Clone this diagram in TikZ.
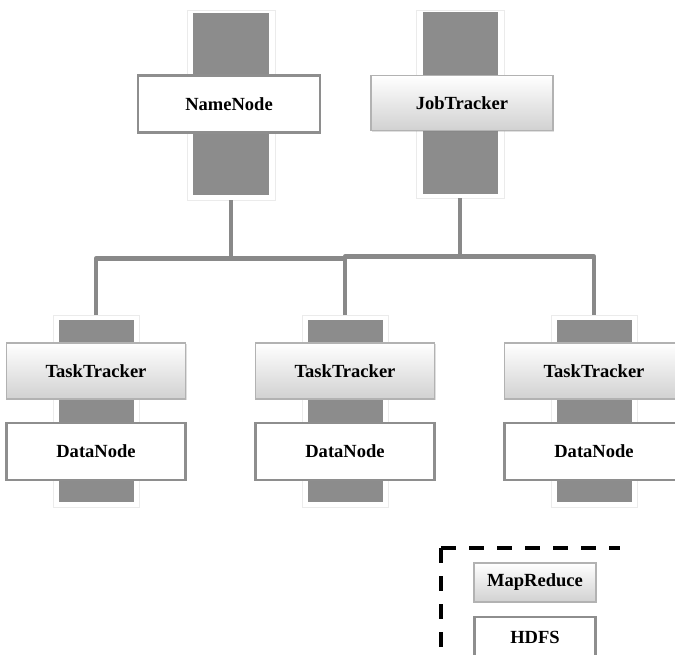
\documentclass[tikz,border=0pt]{standalone}
\usepackage{fontspec}
\setmainfont{Liberation Serif}
\usetikzlibrary{shadows}
\definecolor{barc}{HTML}{8C8C8C}
\definecolor{linec}{HTML}{898989}
\definecolor{edgec}{HTML}{8E8E8E}
\tikzset{
  sz/.style 2 args={minimum width=#1*0.75pt, minimum height=#2*0.75pt, inner sep=0pt, outer sep=0pt},
  halo/.style={rectangle, fill=white, draw=black!8, line width=0.4pt,
    drop shadow={opacity=0.18, shadow xshift=0.6pt, shadow yshift=-0.8pt}},
  bar/.style={rectangle, fill=barc, draw=none},
  whitebox/.style={rectangle, fill=white, draw=edgec, line width=1.6pt,
    font=\bfseries\fontsize{13.9}{16}\selectfont,
    drop shadow={opacity=0.2, shadow xshift=0.8pt, shadow yshift=-0.8pt}},
  gradbox/.style={rectangle, top color=white, bottom color=black!18, draw=black!30, line width=0.8pt,
    font=\bfseries\fontsize{13.9}{16}\selectfont,
    drop shadow={opacity=0.25, shadow xshift=0.8pt, shadow yshift=-1pt}},
  conn/.style={draw=linec, line width=3.5pt, line join=round},
  legendline/.style={draw=black, line width=2.3pt, dash pattern=on 11.25pt off 9.75pt}
}
\begin{document}
\begin{tikzpicture}[x=0.75pt, y=-0.75pt]
\clip (0,0) rectangle (675,654);
\fill[white] (0,0) rectangle (675,654);

% top columns
\node[halo, sz={88}{190}] (nnhalo) at (231,105) {};
\node[bar, sz={76}{182}] (nnbar) at (231,104) {};
\node[halo, sz={88}{188}] (jthalo) at (460,104) {};
\node[bar, sz={75}{182}] (jtbar) at (460,103) {};

% bottom columns
\foreach \i/\x in {1/96, 2/345, 3/594} {
  \node[halo, sz={86}{192}] (h\i) at (\x,411) {};
  \node[bar, sz={75}{182}] (b\i) at (\x,411) {};
}

% bus junctions
\coordinate (bl) at (345,258.5);
\coordinate (br) at (345,256.5);

\draw[conn] (h1.north) -- (h1.north |- bl) -- (bl);
\draw[conn] (nnhalo.south) -- (nnhalo.south |- bl);
\draw[conn] (h2.north) -- (h2.north |- br) -- (h3.north |- br) -- (h3.north);
\draw[conn] (jthalo.south) -- (jthalo.south |- br);

% boxes
\node[whitebox, sz={182}{57}] (nn) at (229,104) {NameNode};
\node[gradbox, sz={182}{55}] (jt) at (462,103) {JobTracker};

\foreach \i/\x in {1/96, 2/345, 3/594} {
  \node[gradbox, sz={179}{56}] (tt\i) at (\x,371) {TaskTracker};
  \node[whitebox, sz={179}{57}] (dn\i) at (\x,451.5) {DataNode};
}

% legend
\coordinate (lc) at (441,548);
\coordinate (lr) at (620,548);
\coordinate (ld) at (441,670);
\draw[legendline] (lc) -- (lr);
\draw[legendline] (lc) -- (ld);
\node[gradbox, sz={122}{39}] (mr) at (535,582.5) {MapReduce};
\node[whitebox, sz={121}{40}] (hdfs) at (535,637) {HDFS};
\end{tikzpicture}
\end{document}
